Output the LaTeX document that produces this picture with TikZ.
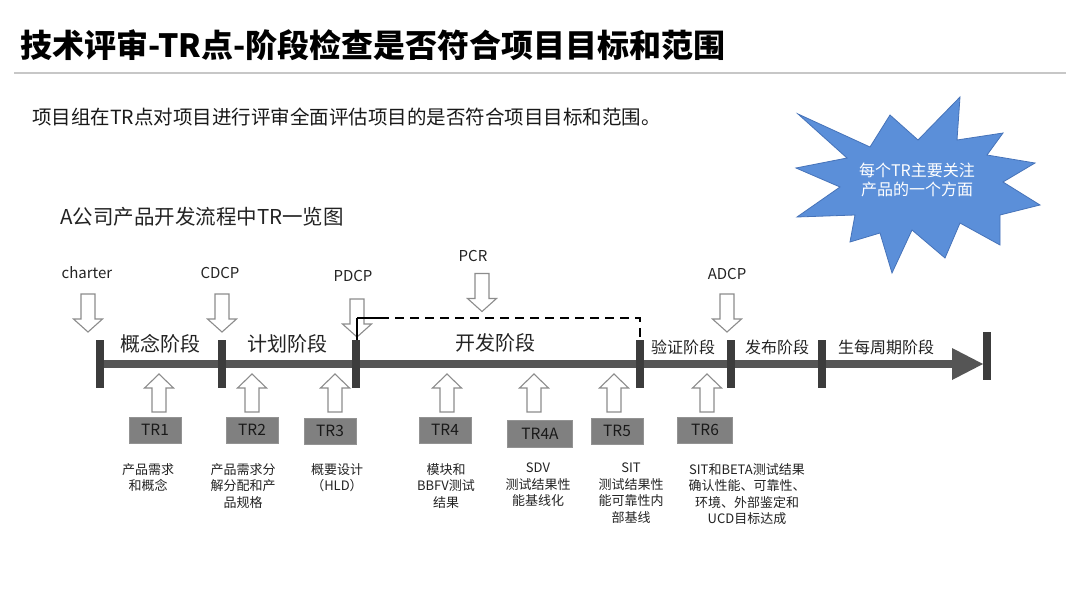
\documentclass[tikz,border=0pt]{standalone}
\usepackage{fontspec}
\setmainfont{Noto Sans CJK SC}
\definecolor{barcol}{RGB}{85,85,85}
\definecolor{tickcol}{RGB}{60,60,60}
\definecolor{starfill}{RGB}{91,143,217}
\definecolor{stardraw}{RGB}{70,115,185}
\definecolor{boxfill}{RGB}{128,128,128}
\definecolor{txt}{RGB}{35,35,35}
\definecolor{arrdraw}{RGB}{140,140,140}
\newcommand{\fs}[1]{\fontsize{#1}{#1}\selectfont}
\begin{document}
\begin{tikzpicture}[x=1pt,y=-1pt,
  hollow/.style={draw=arrdraw, fill=white, line width=1.1pt, line join=miter},
  trbox/.style={fill=boxfill, draw=boxfill!85!white, minimum width=52pt, minimum height=26pt, inner sep=0pt, font=\fs{15.5}, text=black!90},
  desc/.style={anchor=north, align=center, inner sep=0pt, font=\fontsize{13}{16.5}\selectfont, text=txt},
  mile/.style={font=\fs{15}, text=txt, inner sep=0pt},
  phase/.style={font=\fs{20}, text=txt, inner sep=0pt},
  sphase/.style={font=\fs{16}, text=txt, inner sep=0pt},
  downarrow/.pic={\draw[hollow] (-7,-19) -- (7,-19) -- (7,6) -- (14.5,6) -- (0,19) -- (-14.5,6) -- (-7,6) -- cycle;},
  uparrow/.pic={\draw[hollow] (-7,19) -- (7,19) -- (7,-5) -- (14.5,-5) -- (0,-19) -- (-14.5,-5) -- (-7,-5) -- cycle;}
]
\useasboundingbox[fill=white] (0,0) rectangle (1080,608);

% title
\node[anchor=west, inner sep=0pt, font=\fs{32}\bfseries, text=black] (title) at (20,45) {技术评审-TR点-阶段检查是否符合项目目标和范围};
\draw[color=black!22, line width=1.5pt] (14,73) -- (1066,73);
\node[anchor=west, inner sep=0pt, font=\fs{19.5}, text=black!90] (sub) at (32,117) {项目组在TR点对项目进行评审全面评估项目的是否符合项目目标和范围。};

% star
\draw[fill=starfill, draw=stardraw, line width=0.8pt, line join=miter]
 (798,114) -- (870,147) -- (890,115) -- (918,140) -- (960,97) -- (957,140) -- (1003,133) -- (987,155)
 -- (1035,163) -- (1003,182) -- (1040,205) -- (1000,215) -- (1000,245) -- (960,223) -- (945,258)
 -- (912,230) -- (892,273) -- (880,233) -- (850,242) -- (855,215) -- (797,217) -- (840,187)
 -- (796,168) -- (847,158) -- cycle;
\node[align=center, text=white, font=\fontsize{16}{19}\selectfont, inner sep=0pt] (startext) at (917,180) {每个TR主要关注\\产品的一个方面};

\node[anchor=west, inner sep=0pt, font=\fs{20.5}, text=txt] (chart) at (60,217) {A公司产品开发流程中TR一览图};

% timeline
\draw[barcol, line width=8pt] (100,364) -- (953,364);
\fill[barcol] (952,348) -- (983,364) -- (952,380) -- cycle;
\foreach \x in {100,222,356,640,731,822} {\fill[tickcol] (\x-4,340) rectangle (\x+4,388);}
\fill[tickcol] (983,332) rectangle (991,380);

% dashed bracket
\draw[black, line width=2pt, dash pattern=on 9pt off 6pt] (357,340) -- (357,318) -- (640,318) -- (640,340);

% milestones
\node[mile] (charter) at (87,273) {charter};
\node[mile] (cdcp) at (220,273) {CDCP};
\node[mile] (pdcp) at (353,276) {PDCP};
\node[mile] (pcr) at (473,256) {PCR};
\node[mile] (adcp) at (727,274) {ADCP};
\pic at (88,313) {downarrow};
\pic at (222,313) {downarrow};
\pic at (357,318) {downarrow};
\draw[black, line width=2pt] (357,318) -- (357,340);
\pic at (482,292.5) {downarrow};
\pic at (727,313) {downarrow};
\draw[black, line width=2pt, dash pattern=on 9pt off 6pt] (357,318) -- (380,318);

% phases
\node[phase] (p1) at (160,344) {概念阶段};
\node[phase] (p2) at (287,344) {计划阶段};
\node[phase] (p3) at (495,343) {开发阶段};
\node[sphase] (p4) at (683,347) {验证阶段};
\node[sphase] (p5) at (777,347) {发布阶段};
\node[sphase] (p6) at (886,347) {生每周期阶段};

% TR arrows
\foreach \x in {159,252,335,447,534,614,707} {\pic at (\x,393) {uparrow};}

% TR boxes
\node[trbox] (tr1) at (155,430) {TR1};
\node[trbox] (tr2) at (252,430) {TR2};
\node[trbox] (tr3) at (330,431) {TR3};
\node[trbox] (tr4) at (445,430) {TR4};
\node[trbox, minimum width=65pt, minimum height=27pt] (tr4a) at (540,434) {TR4A};
\node[trbox] (tr5) at (617,431) {TR5};
\node[trbox, minimum width=55pt] (tr6) at (705,430) {TR6};

% descriptions
\node[desc] (d1) at (148,463) {产品需求\\和概念};
\node[desc] (d2) at (243,463) {产品需求分\\解分配和产\\品规格};
\node[desc] (d3) at (337,463) {概要设计\\（HLD）};
\node[desc] (d4) at (446,463) {模块和\\BBFV测试\\结果};
\node[desc] (d4a) at (538,463) {SDV\\测试结果性\\能基线化};
\node[desc] (d5) at (631,463) {SIT\\测试结果性\\能可靠性内\\部基线};
\node[desc] (d6) at (747,463) {SIT和BETA测试结果\\确认性能、可靠性、\\环境、外部鉴定和\\UCD目标达成};
\end{tikzpicture}
\end{document}
